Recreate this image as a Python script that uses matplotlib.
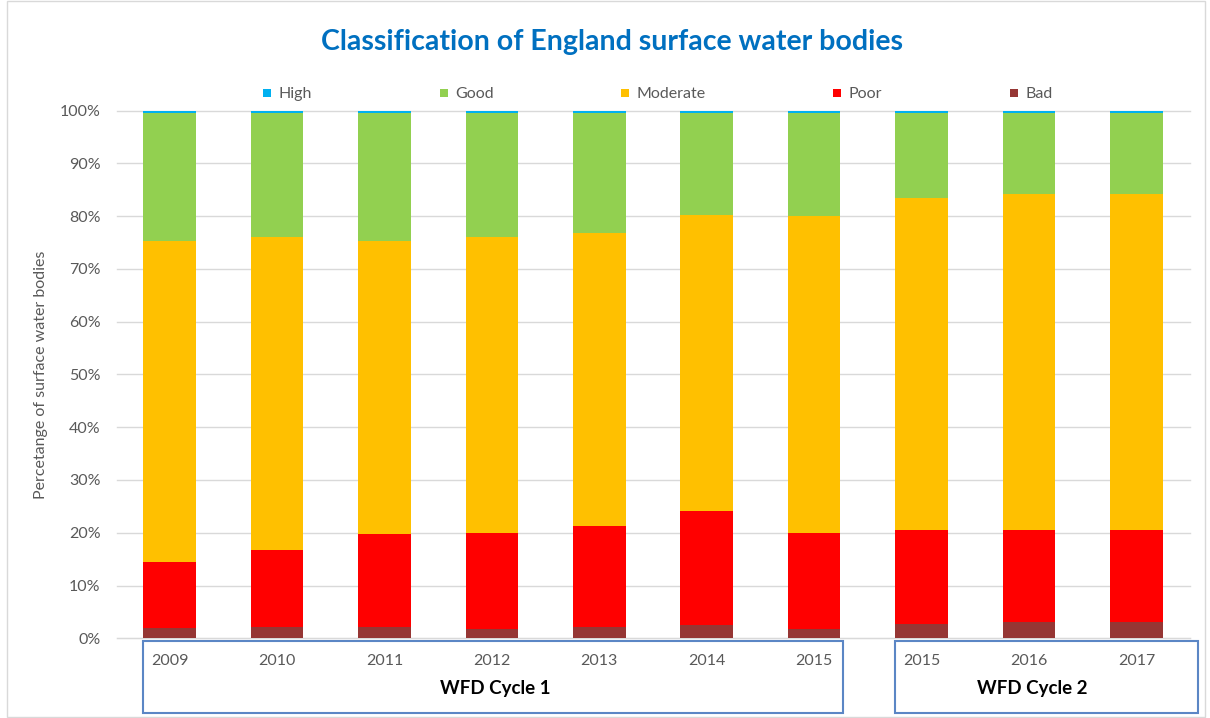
import matplotlib
matplotlib.use('Agg')
import matplotlib.pyplot as plt
import matplotlib.transforms as mtransforms
from matplotlib.lines import Line2D
from matplotlib.patches import Rectangle
import numpy as np

plt.rcParams['font.family'] = ['Lato', 'DejaVu Sans']

# data (percent of water bodies per class)
years = ['2009', '2010', '2011', '2012', '2013', '2014', '2015', '2015', '2016', '2017']
bad = [1.9, 2.1, 2.1, 1.8, 2.1, 2.5, 1.8, 2.8, 3.0, 3.0]
poor = [12.6, 14.6, 17.6, 18.1, 19.2, 21.7, 18.1, 17.8, 17.6, 17.6]
moderate = [60.7, 59.3, 55.5, 56.2, 55.5, 56.0, 60.1, 62.8, 63.6, 63.6]
good = [24.4, 23.6, 24.4, 23.5, 22.8, 19.4, 19.6, 16.2, 15.4, 15.4]
high = [0.4, 0.4, 0.4, 0.4, 0.4, 0.4, 0.4, 0.4, 0.4, 0.4]

classes = ['Bad', 'Poor', 'Moderate', 'Good', 'High']
colours = {'High': '#00B0F0', 'Good': '#92D050', 'Moderate': '#FFC000',
           'Poor': '#FF0000', 'Bad': '#963634'}
legend_order = ['High', 'Good', 'Moderate', 'Poor', 'Bad']

# cycle groups: (label, first bar index, last bar index)
cycles = [('WFD Cycle 1', 0, 6), ('WFD Cycle 2', 7, 9)]

fig = plt.figure(figsize=(12.1, 7.18), dpi=100)
ax = fig.add_axes([0.0967, 0.111, 0.8868, 0.735])

x = np.arange(len(years))
series = {'Bad': bad, 'Poor': poor, 'Moderate': moderate, 'Good': good, 'High': high}
bottom = np.zeros(len(years))
for c in classes:
    vals = np.array(series[c])
    ax.bar(x, vals, width=0.49, bottom=bottom, color=colours[c], zorder=3, linewidth=0)
    bottom += vals

ax.set_xlim(-0.49, 9.5)
ax.set_ylim(0, 100)
ax.set_yticks(np.arange(0, 101, 10))
ax.set_yticklabels([f'{v}%' for v in range(0, 101, 10)], color='#595959', fontsize=11.5)
ax.yaxis.grid(True, color='#d9d9d9', linewidth=1, zorder=0)
for gl in ax.yaxis.get_gridlines():
    gl.set_clip_on(False)
ax.tick_params(axis='y', length=0, pad=12)
ax.set_xticks([])
for s in ['top', 'right', 'left']:
    ax.spines[s].set_visible(False)
ax.spines['bottom'].set_color('#d9d9d9')

ax.set_ylabel('Percetange of surface water bodies', color='#595959', fontsize=11.5, labelpad=8)

# year labels + cycle boxes below axis
trans = mtransforms.blended_transform_factory(ax.transData, ax.transAxes)
for i, yr in enumerate(years):
    ax.text(i, -0.043, yr, transform=trans, ha='center', va='center',
            color='#595959', fontsize=11.5)
for label, i0, i1 in cycles:
    x0 = i0 - 0.25
    x1 = i1 + 0.57 if i1 == len(years) - 1 else i1 + 0.27
    ax.add_patch(Rectangle((x0, -0.141), x1 - x0, 0.136, transform=trans,
                           fill=False, edgecolor='#5B86C5', linewidth=1.5, clip_on=False))
    ax.text((i0 + i1) / 2 + 0.03, -0.096, label, transform=trans, ha='center', va='center',
            color='black', fontsize=13.5, fontweight='bold')

# legend
handles = [Line2D([], [], marker='s', linestyle='none', markersize=6,
                  markerfacecolor=colours[c], markeredgewidth=0) for c in legend_order]
leg = fig.legend(handles, legend_order, loc='center', bbox_to_anchor=(0.543, 0.869),
                 ncol=5, frameon=False, fontsize=11.5, handlelength=0.7,
                 handletextpad=0.35, columnspacing=7.9)
for t in leg.get_texts():
    t.set_color('#595959')

fig.text(0.506, 0.941, 'Classification of England surface water bodies',
         ha='center', va='center', color='#0070C0', fontsize=20.5, fontweight='bold')

# faint chart-area border
fig.patches.append(Rectangle((0.006, 0.002), 0.99, 0.996, transform=fig.transFigure,
                             fill=False, edgecolor='#d9d9d9', linewidth=1))

fig.savefig('out.png', dpi=100)
